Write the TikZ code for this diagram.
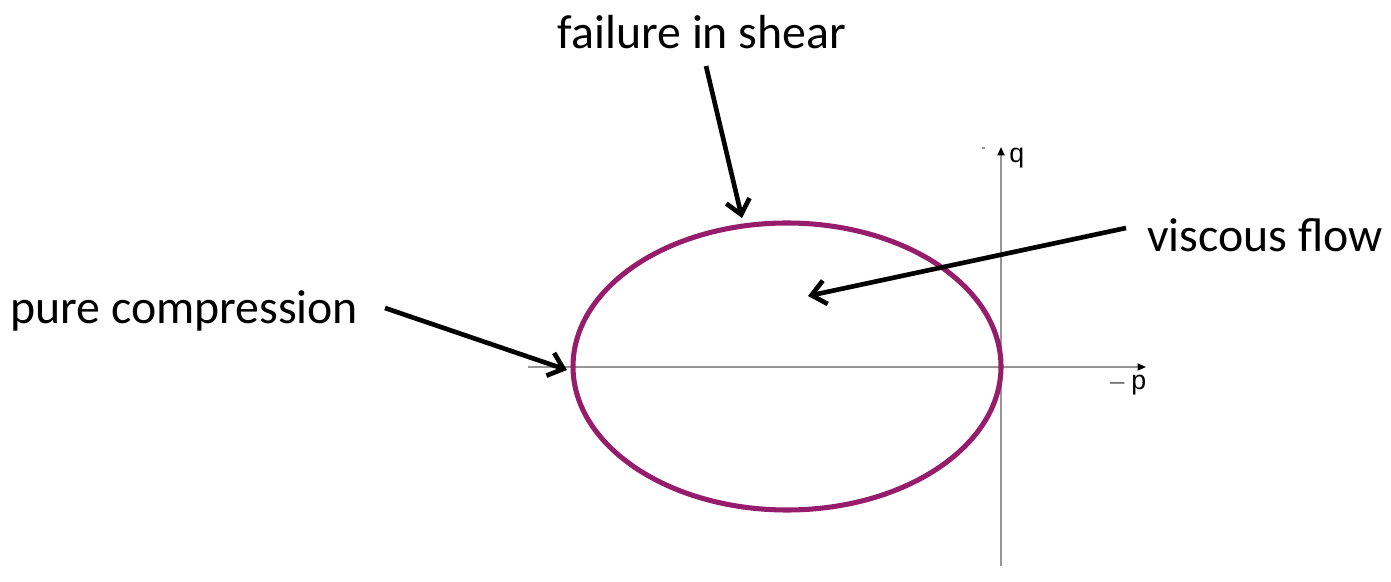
\documentclass[tikz,border=0pt]{standalone}
\usepackage{fontspec}
\setmainfont{Carlito}
\newfontfamily\axfont{Liberation Sans}
\usetikzlibrary{arrows.meta}
\definecolor{ellcol}{RGB}{150,28,108}
\definecolor{axcol}{RGB}{150,150,150}
\tikzset{
  px/.style={x=0.025cm,y=-0.025cm},
  axis/.style={draw=axcol, line width=1.2pt, -{Triangle[length=6pt,width=5pt,color=black]}},
  pointer/.style={draw=black, line width=3.3pt, -{Straight Barb[length=10pt,width=17pt,line width=3.3pt]}},
  lbl/.style={font=\fontsize{34}{40}\selectfont, inner sep=0pt},
  axlbl/.style={font=\axfont\fontsize{19}{22}\selectfont, inner sep=0pt}
}
\begin{document}
\begin{tikzpicture}[px]
\useasboundingbox (0,0) rectangle (1391,582);
% axes
\coordinate (hx0) at (528,367);
\coordinate (hx1) at (1146,367);
\coordinate (vy0) at (1001,566);
\coordinate (vy1) at (1001,147);
\draw[axis] (hx0) -- (hx1);
\draw[axis] (vy0) -- (vy1);
\node[axlbl, anchor=west] (q) at (1009,158) {q};
\node[axlbl] (p) at (1127,385) {$-$\,p};
\draw[axcol, line width=0.8pt] (982,148) -- (985,148);
% ellipse
\draw[ellcol, line width=3.6pt] (787,366.5) ellipse [x radius=214, y radius=143.5];
% labels
\node[lbl] (fs) at (702,32) {failure in shear};
\node[lbl, anchor=west] (pc) at (10,311) {pure compression};
\node[lbl, anchor=west] (vf) at (1147,235) {viscous flow};
\coordinate (fsT) at (742,218);
\coordinate (pcT) at (567,370);
\coordinate (vfT) at (808,296);
\coordinate (fsS) at (706,66);
\coordinate (pcS) at (385,308);
\coordinate (vfS) at (1126,228);
\draw[pointer] (fsS) -- (fsT);
\draw[pointer] (pcS) -- (pcT);
\draw[pointer] (vfS) -- (vfT);
\end{tikzpicture}
\end{document}
